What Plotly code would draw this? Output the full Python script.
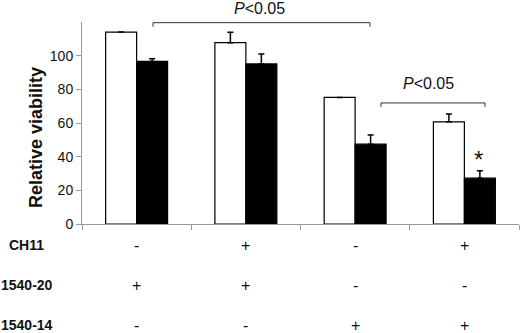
import plotly.graph_objects as go

groups = [0, 1, 2, 3]
white_vals = [114, 107.7, 75.2, 60.7]
white_err = [None, 6.2, None, 4.6]
black_vals = [96.6, 95.1, 47.4, 27.2]
black_err = [1.6, 5.9, 5.4, 4.5]

y_ticks = [0, 20, 40, 60, 80, 100]
row_labels = ["CH11", "1540-20", "1540-14"]
row_signs = [["-", "+", "-", "+"],
             ["+", "+", "-", "-"],
             ["-", "-", "+", "+"]]
p_label = "<i>P</i>&lt;0.05"

FONT = "Liberation Sans, Arial, sans-serif"
YMAX = 120
PLOT_L, PLOT_W, PLOT_B, PLOT_H = 82, 437, 224, 202  # pixel geometry of the plot area


def px(xp):
    return (xp - PLOT_L) / PLOT_W


def py(yp):
    return (PLOT_B - yp) / PLOT_H


fig = go.Figure()
fig.add_trace(go.Bar(
    x=groups, y=white_vals, marker=dict(color="white", line=dict(color="black", width=1.2)),
    error_y=dict(type="data", array=white_err, arrayminus=[0] * 4, symmetric=False,
                 thickness=1.5, width=3, color="black"),
    showlegend=False, hoverinfo="skip"))
fig.add_trace(go.Bar(
    x=groups, y=black_vals, marker=dict(color="black", line=dict(color="black", width=1.2)),
    error_y=dict(type="data", array=black_err, arrayminus=[0] * 4, symmetric=False,
                 thickness=1.5, width=3, color="black"),
    showlegend=False, hoverinfo="skip"))

fig.update_layout(
    width=520, height=333,
    margin=dict(l=82, r=1, t=22, b=109),
    paper_bgcolor="white", plot_bgcolor="white",
    barmode="group", bargap=0.433, bargroupgap=0,
    font=dict(family=FONT, color="#111"),
    xaxis=dict(range=[-0.5, 3.5], tickmode="array", tickvals=[-0.5, 0.5, 1.5, 2.5, 3.5],
               ticktext=[""] * 5, ticks="outside", ticklen=5, tickcolor="#999",
               showline=True, linecolor="#999", linewidth=1, showgrid=False, zeroline=False),
    yaxis=dict(range=[0, YMAX], tickmode="array", tickvals=y_ticks, ticks="outside",
               ticklen=5, tickcolor="#999", showline=True, linecolor="#999", linewidth=1,
               showgrid=False, zeroline=False, tickfont=dict(size=14, color="#111")),
)


def bracket(x0, x1, yv, drop=2.4):
    y = yv / YMAX
    d = drop / YMAX
    for (a, b, c, e) in [(x0, y, x1, y), (x0, y, x0, y - d), (x1, y, x1, y - d)]:
        fig.add_shape(type="line", xref="x", yref="paper", x0=a, y0=b, x1=c, y1=e,
                      line=dict(color="#333", width=1))


bracket(0.15, 2.136, 119.6)
bracket(2.237, 3.189, 71.9)


def ann(**kw):
    kw.setdefault("showarrow", False)
    kw.setdefault("xanchor", "center")
    kw.setdefault("yanchor", "middle")
    fig.add_annotation(**kw)


ann(x=1.125, y=py(9), xref="x", yref="paper", text=p_label, font=dict(size=16, color="#111"))
ann(x=2.676, y=py(83), xref="x", yref="paper", text=p_label, font=dict(size=16, color="#111"))
ann(x=3.13, y=38.5, xref="x", yref="y", text="*", font=dict(size=24, color="#111"))

ann(x=px(36), y=py(138), xref="paper", yref="paper", text="<b>Relative viability</b>",
    textangle=-90, font=dict(size=18, color="#111"))

row_py = [245, 285, 325]
for lab, ypix, signs in zip(row_labels, row_py, row_signs):
    yp = py(ypix)
    ann(x=px(27), y=yp, xref="paper", yref="paper", text="<b>" + lab + "</b>",
        font=dict(size=14, color="#111"))
    for g, s in zip(groups, signs):
        ann(x=g, y=yp, xref="x", yref="paper", text=s, font=dict(size=16, color="#111"))

fig.write_html("out.html", config={"displayModeBar": False, "staticPlot": True},
               post_script="document.body.style.margin='0';")
